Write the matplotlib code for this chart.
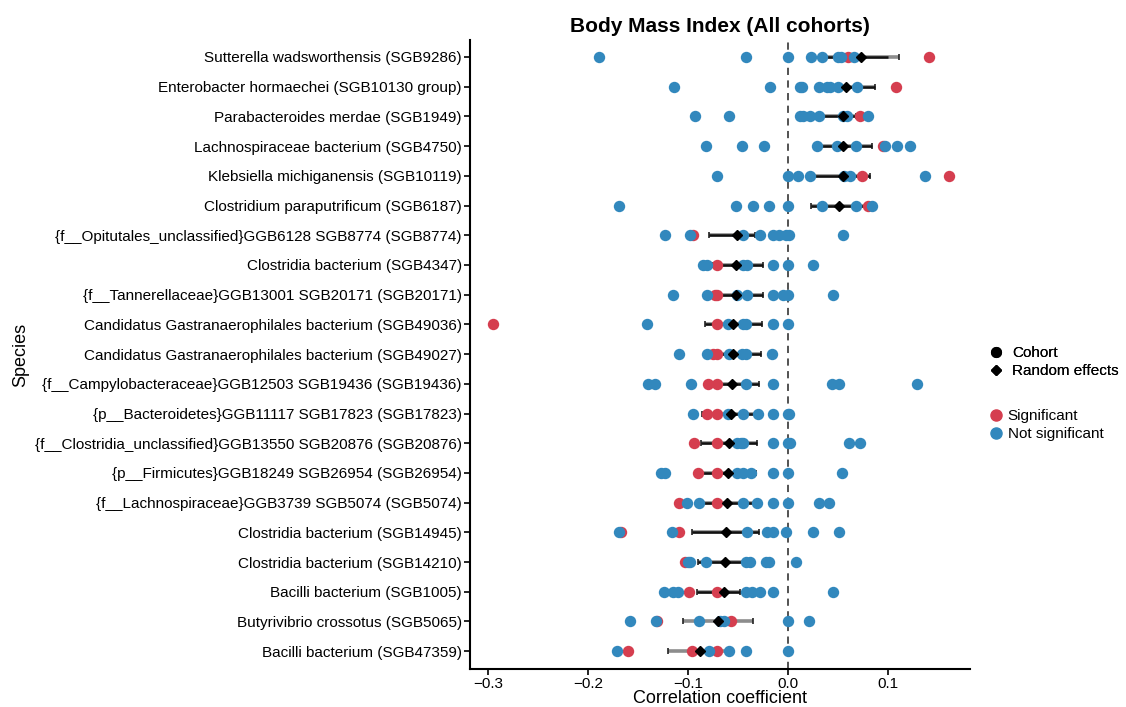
import numpy as np
import matplotlib
matplotlib.use("Agg")
import matplotlib.pyplot as plt
from matplotlib.lines import Line2D

plt.rcParams['font.family'] = ['Liberation Sans', 'DejaVu Sans']

species = [
    "Sutterella wadsworthensis (SGB9286)",
    "Enterobacter hormaechei (SGB10130 group)",
    "Parabacteroides merdae (SGB1949)",
    "Lachnospiraceae bacterium (SGB4750)",
    "Klebsiella michiganensis (SGB10119)",
    "Clostridium paraputrificum (SGB6187)",
    "{f__Opitutales_unclassified}GGB6128 SGB8774 (SGB8774)",
    "Clostridia bacterium (SGB4347)",
    "{f__Tannerellaceae}GGB13001 SGB20171 (SGB20171)",
    "Candidatus Gastranaerophilales bacterium (SGB49036)",
    "Candidatus Gastranaerophilales bacterium (SGB49027)",
    "{f__Campylobacteraceae}GGB12503 SGB19436 (SGB19436)",
    "{p__Bacteroidetes}GGB11117 SGB17823 (SGB17823)",
    "{f__Clostridia_unclassified}GGB13550 SGB20876 (SGB20876)",
    "{p__Firmicutes}GGB18249 SGB26954 (SGB26954)",
    "{f__Lachnospiraceae}GGB3739 SGB5074 (SGB5074)",
    "Clostridia bacterium (SGB14945)",
    "Clostridia bacterium (SGB14210)",
    "Bacilli bacterium (SGB1005)",
    "Butyrivibrio crossotus (SGB5065)",
    "Bacilli bacterium (SGB47359)",
]

random_effect = [0.073, 0.058, 0.055, 0.055, 0.055, 0.051, -0.051, -0.052, -0.052, -0.055, -0.055,
                 -0.056, -0.057, -0.059, -0.060, -0.061, -0.062, -0.063, -0.064, -0.070, -0.088]

ci_low = [0.034, 0.050, 0.033, 0.029, 0.025, 0.023, -0.079, -0.075, -0.073, -0.083, -0.080,
          -0.083, -0.086, -0.087, -0.090, -0.089, -0.096, -0.090, -0.091, np.nan, np.nan]
ci_high = [0.100, 0.087, 0.068, 0.084, 0.082, 0.082, -0.033, -0.025, -0.025, -0.026, -0.027,
           -0.029, -0.033, -0.031, -0.032, -0.031, -0.029, -0.041, -0.048, np.nan, np.nan]

grey_low = [0.034, 0.050, 0.033, 0.029, 0.025, 0.023, -0.079, -0.075, -0.073, -0.083, -0.080,
            -0.083, -0.086, -0.087, -0.090, -0.089, -0.096, -0.090, -0.091, -0.105, -0.120]
grey_high = [0.111, 0.087, 0.068, 0.084, 0.082, 0.082, -0.033, -0.025, -0.025, -0.026, -0.027,
             -0.029, -0.033, -0.031, -0.032, -0.031, -0.029, -0.041, -0.048, -0.035, -0.055]

significant = [
    [0.060, 0.141],
    [0.108],
    [0.072],
    [0.095],
    [0.074, 0.161],
    [0.080],
    [-0.095],
    [-0.071],
    [-0.073, -0.071],
    [-0.295, -0.071],
    [-0.075, -0.071],
    [-0.080, -0.071],
    [-0.081, -0.071],
    [-0.094, -0.071],
    [-0.090, -0.071],
    [-0.109, -0.071],
    [-0.167, -0.109],
    [-0.103],
    [-0.099, -0.071],
    [-0.131, -0.057],
    [-0.160, -0.096, -0.071],
]

not_significant = [
    [-0.189, -0.042, 0.0, 0.023, 0.034, 0.050, 0.053, 0.066],
    [-0.114, -0.018, 0.012, 0.014, 0.031, 0.039, 0.042, 0.050, 0.069],
    [-0.093, -0.059, 0.012, 0.015, 0.022, 0.031, 0.055, 0.059, 0.080],
    [-0.082, -0.046, -0.024, 0.029, 0.049, 0.068, 0.097, 0.109, 0.122],
    [-0.071, 0.0, 0.010, 0.022, 0.056, 0.062, 0.137],
    [-0.169, -0.052, -0.035, -0.019, 0.0, 0.034, 0.068, 0.084],
    [-0.123, -0.098, -0.045, -0.028, -0.015, -0.009, -0.002, 0.001, 0.055],
    [-0.085, -0.081, -0.045, -0.041, -0.015, 0.0, 0.025],
    [-0.115, -0.081, -0.051, -0.041, -0.015, -0.005, 0.0, 0.045],
    [-0.141, -0.060, -0.045, -0.042, -0.015, 0.0],
    [-0.109, -0.081, -0.059, -0.046, -0.042, -0.016],
    [-0.140, -0.133, -0.097, -0.042, -0.015, 0.044, 0.051, 0.129],
    [-0.095, -0.060, -0.045, -0.030, -0.015, 0.0, 0.001],
    [-0.051, -0.047, -0.045, -0.015, 0.0, 0.002, 0.061, 0.072],
    [-0.127, -0.123, -0.051, -0.045, -0.037, -0.015, 0.0, 0.054],
    [-0.101, -0.089, -0.045, -0.031, -0.015, 0.0, 0.031, 0.041],
    [-0.169, -0.116, -0.041, -0.021, -0.015, -0.002, 0.025, 0.051],
    [-0.100, -0.098, -0.082, -0.042, -0.038, -0.022, -0.019, 0.008],
    [-0.124, -0.115, -0.110, -0.042, -0.036, -0.028, -0.015, 0.045],
    [-0.158, -0.132, -0.089, -0.068, -0.064, 0.0, 0.021],
    [-0.171, -0.079, -0.059, -0.042, 0.0],
]

xticks = [-0.3, -0.2, -0.1, 0.0, 0.1]
xtick_labels = ["\u22120.3", "\u22120.2", "\u22120.1", "0.0", "0.1"]

RED = "#D53E4F"
BLUE = "#3288BD"

fig = plt.figure(figsize=(11.26, 7.07), dpi=100)
ax = fig.add_axes([0.4174, 0.0537, 0.4441, 0.8897])

n = len(species)
ypos = np.arange(n)[::-1]

ax.axvline(0, color="#444444", linestyle=(0, (4, 3)), linewidth=1.3, zorder=1)

for i, y in enumerate(ypos):
    ax.plot([grey_low[i], grey_high[i]], [y, y], color="#8c8c8c", linewidth=2.6, zorder=2,
            solid_capstyle="butt")
    ax.plot([grey_low[i], grey_high[i]], [y, y], linestyle="none", marker="|",
            markersize=4, color="#222222", markeredgewidth=1.2, zorder=2.1)
    if not np.isnan(ci_low[i]):
        ax.plot([ci_low[i], ci_high[i]], [y, y], color="#111111", linewidth=1.8, zorder=2.2,
                solid_capstyle="butt")
    sx = significant[i]
    ax.plot(sx, [y] * len(sx), linestyle="none", marker="o", markersize=8.2,
            color=RED, markeredgewidth=0, zorder=3)
    nx = not_significant[i]
    ax.plot(nx, [y] * len(nx), linestyle="none", marker="o", markersize=8.2,
            color=BLUE, markeredgewidth=0, zorder=3.1)
    ax.plot([random_effect[i]], [y], linestyle="none", marker="D", markersize=5,
            color="black", zorder=4)

ax.set_xlim(-0.318, 0.182)
ax.set_ylim(-0.6, n - 1 + 0.57)
ax.set_yticks(ypos)
ax.set_yticklabels(species, fontsize=11)
ax.set_xticks(xticks)
ax.set_xticklabels(xtick_labels, fontsize=11)
ax.tick_params(axis="both", direction="out", length=4, width=1.2, color="black", labelcolor="black", pad=2)
for s in ["top", "right"]:
    ax.spines[s].set_visible(False)
for s in ["left", "bottom"]:
    ax.spines[s].set_linewidth(1.5)
    ax.spines[s].set_color("black")

ax.set_xlabel("Correlation coefficient", fontsize=13, labelpad=-1)
ax.set_ylabel("Species", fontsize=13, labelpad=4)
ax.set_title("Body Mass Index (All cohorts)", fontsize=15, fontweight="bold", pad=6)

h1 = [Line2D([], [], linestyle="none", marker="o", markersize=7, color="black"),
      Line2D([], [], linestyle="none", marker="D", markersize=5, color="black")]
leg1 = fig.legend(h1, ["Cohort", "Random effects"], loc="upper left",
                  bbox_to_anchor=(0.872, 1 - 340 / 707), frameon=False, fontsize=11,
                  handlelength=1.0, handletextpad=0.6, labelspacing=0.25, borderaxespad=0)
h2 = [Line2D([], [], linestyle="none", marker="o", markersize=8, color=RED),
      Line2D([], [], linestyle="none", marker="o", markersize=8, color=BLUE)]
leg2 = fig.legend(h2, ["Significant", "Not significant"], loc="upper left",
                  bbox_to_anchor=(0.872, 1 - 403 / 707), frameon=False, fontsize=11,
                  handlelength=1.0, handletextpad=0.3, labelspacing=0.25, borderaxespad=0)
fig.add_artist(leg1)

fig.savefig("out.png", dpi=100)
